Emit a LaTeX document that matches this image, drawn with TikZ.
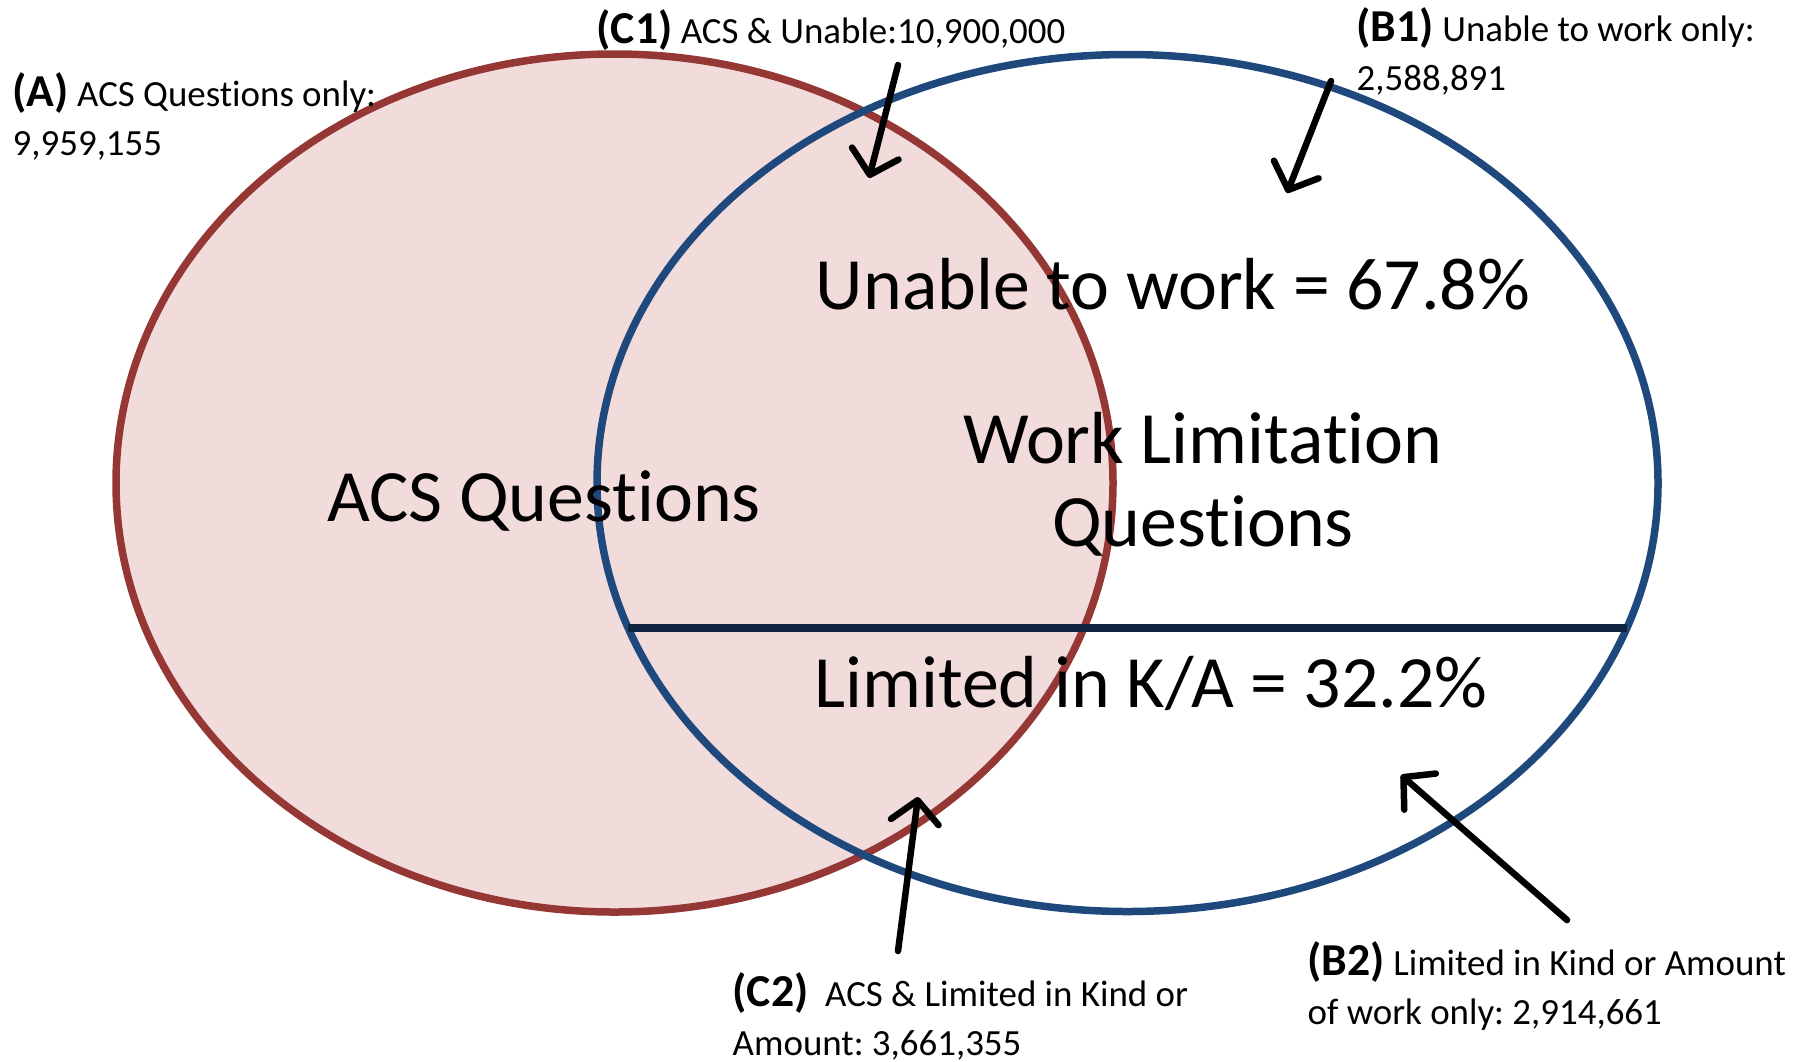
\documentclass[tikz,border=0pt]{standalone}
\usepackage{fontspec}
\setmainfont{Carlito}[Ligatures=NoCommon]
\usetikzlibrary{arrows.meta}
\definecolor{acsred}{HTML}{953735}
\definecolor{acsfill}{HTML}{F2DCDB}
\definecolor{wlblue}{HTML}{1F497D}
\definecolor{wlnavy}{HTML}{10243F}
\newcommand{\regionlabel}[1]{{\fontsize{13}{13.7}\selectfont\bfseries(#1)}}
\frenchspacing

\begin{document}
\begin{tikzpicture}[
    bigtext/.style={font=\fontsize{21}{23.4}\selectfont, inner sep=0pt, anchor=base},
    callout/.style={font=\fontsize{10.5}{13.7}\selectfont, inner sep=0pt, anchor=base west, align=left},
    pointer/.style={line width=0.065cm, line cap=round, -{Straight Barb[length=2.2mm,width=4.8mm,round]}}
]
\useasboundingbox (0,0) rectangle (18.14,10.61);

% Drawing set A (ACS questions)
\draw [line width=0.075cm, draw=acsred, fill=acsfill] (6.145,5.780) ellipse [x radius=4.985, y radius=4.290];%

% Drawing set B (work limitation questions)
\draw [line width=0.075cm, draw=wlblue] (11.275,5.780) ellipse [x radius=5.305, y radius=4.285];%

% Drawing split line of set B
\coordinate (splitL) at (6.280,4.330);
\coordinate (splitR) at (16.270,4.330);
\draw [line width=0.075cm, draw=wlnavy] (splitL) -- (splitR);%

% Marking set texts
\node [bigtext] (unable) at (11.730,7.520) {Unable to work = 67.8\%};%
\node [bigtext] (acs) at (5.440,5.400) {ACS Questions};%
\node [bigtext, align=center] (worklim) at (12.030,5.150) {Work Limitation\\Questions};%
\node [bigtext] (limited) at (11.510,3.540) {Limited in K/A = 32.2\%};%

% Marking region A
\node [callout] (labelA) at (0.120,9.060) {\regionlabel{A} ACS Questions only:\\9,959,155};%

% Marking region C1
\node [callout] (labelC1) at (5.960,10.180) {\regionlabel{C1} ACS \& Unable:10,900,000};%

% Marking region B1
\node [callout] (labelB1) at (13.560,9.710) {\regionlabel{B1} Unable to work only:\\2,588,891};%

% Marking region C2
\node [callout] (labelC2) at (7.320,0.060) {\regionlabel{C2}\ \ ACS \& Limited in Kind or\\Amount: 3,661,355};%

% Marking region B2
\node [callout] (labelB2) at (13.070,0.370) {\regionlabel{B2} Limited in Kind or Amount\\of work only: 2,914,661};%

% Drawing pointers
\coordinate (c1tail) at (8.980,9.960);
\coordinate (c1tip) at (8.690,8.830);
\coordinate (b1tail) at (13.310,9.800);
\coordinate (b1tip) at (12.870,8.680);
\coordinate (c2tail) at (8.980,1.100);
\coordinate (c2tip) at (9.180,2.640);
\coordinate (b2tail) at (15.670,1.410);
\coordinate (b2tip) at (14.010,2.860);
\draw [pointer] (c1tail) -- (c1tip);%
\draw [pointer] (b1tail) -- (b1tip);%
\draw [pointer] (c2tail) -- (c2tip);%
\draw [pointer] (b2tail) -- (b2tip);%
\end{tikzpicture}
\end{document}
